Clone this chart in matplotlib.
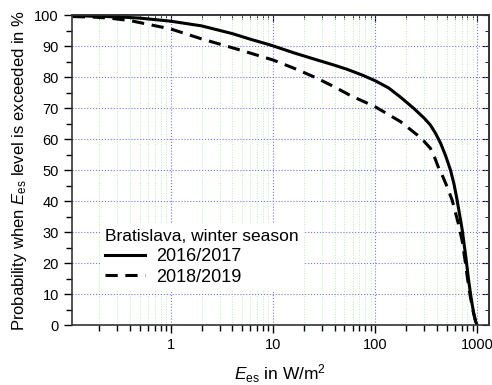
import numpy as np
import matplotlib
matplotlib.use("Agg")
import matplotlib.pyplot as plt
from matplotlib.ticker import LogLocator, MultipleLocator, NullFormatter, FixedLocator

plt.rcParams['font.family'] = ['Liberation Sans', 'DejaVu Sans']
plt.rcParams['mathtext.fontset'] = 'custom'
plt.rcParams['mathtext.rm'] = 'Liberation Sans'
plt.rcParams['mathtext.it'] = 'Liberation Sans:italic'

# 2016/2017 (solid)
x_1617 = [0.11, 0.3, 0.5, 1, 2, 4, 6, 9.5, 16, 27, 40, 53, 75, 100, 135, 177, 240, 300, 347,
          390, 437, 490, 545, 590, 633, 711, 770, 820, 870, 920, 960, 990]
p_1617 = [99.8, 99.4, 99.0, 98.0, 96.5, 94.0, 92.2, 90.3, 87.8, 85.5, 83.8, 82.5, 80.6, 78.8,
          76.5, 73.5, 69.8, 66.8, 64.5, 61.8, 58.6, 54.5, 50.0, 45.5, 40.3, 30.6, 22.0,
          14.5, 8.5, 3.8, 1.2, 0.0]
# 2018/2019 (dashed)
x_1819 = [0.11, 0.18, 0.25, 0.4, 0.6, 1, 2, 3.5, 5, 10, 17, 27, 40, 57.5, 100, 177, 258, 300,
          347, 380, 414, 460, 505, 566, 650, 711, 760, 800, 850, 900, 950, 985]
p_1819 = [99.5, 99.3, 99.0, 98.2, 97.0, 95.5, 92.3, 90.0, 88.5, 85.5, 82.5, 79.6, 76.8, 74.0,
          70.4, 65.6, 61.3, 59.3, 57.0, 54.2, 51.0, 47.8, 44.6, 40.3, 32.8, 27.0, 20.5,
          15.0, 9.5, 5.0, 1.8, 0.0]

labels = ['2016/2017', '2018/2019']

fig = plt.figure(figsize=(4.92, 3.85), dpi=100)
ax = fig.add_axes([0.1463, 0.1558, 0.8477, 0.8052])

ax.plot(x_1617, p_1617, color='black', lw=2.2, label=labels[0])
ax.plot(x_1819, p_1819, color='black', lw=2.2, ls=(0, (4, 2.5)), label=labels[1])

ax.set_xscale('log')
ax.set_xlim(0.108, 1300)
ax.set_ylim(0, 100)
ax.xaxis.set_major_locator(FixedLocator([1, 10, 100, 1000]))
ax.set_xticklabels(['1', '10', '100', '1000'])
ax.xaxis.set_minor_locator(LogLocator(base=10, subs=np.arange(2, 10)))
ax.xaxis.set_minor_formatter(NullFormatter())
ax.yaxis.set_major_locator(MultipleLocator(10))
ax.yaxis.set_minor_locator(MultipleLocator(5))

ax.grid(True, which='major', color='#7777ff', ls=':', lw=0.8)
ax.grid(True, which='minor', axis='x', color='#b8f0b8', ls=':', lw=0.7)

ax.tick_params(which='both', direction='out', labelsize=10.5, width=1)
ax.tick_params(which='major', length=6)
ax.tick_params(which='minor', length=4)

top = ax.secondary_xaxis('top')
top.xaxis.set_major_locator(FixedLocator([1, 10, 100, 1000]))
top.xaxis.set_minor_locator(LogLocator(base=10, subs=np.arange(2, 10)))
top.tick_params(which='both', direction='in', labeltop=False)
top.tick_params(which='major', length=5)
top.tick_params(which='minor', length=3)
right = ax.secondary_yaxis('right')
right.yaxis.set_major_locator(MultipleLocator(10))
right.yaxis.set_minor_locator(MultipleLocator(5))
right.tick_params(which='both', direction='in', labelright=False)
right.tick_params(which='major', length=5)
right.tick_params(which='minor', length=3)

for s in list(ax.spines.values()) + [top.spines['top'], right.spines['right']]:
    s.set_color('#333333')
    s.set_linewidth(1.2)

ax.set_xlabel(r'$\mathit{E}_{\mathrm{es}}$ in W/m$^2$', fontsize=12.5, labelpad=7)
ax.set_ylabel(r'Probability when $\mathit{E}_{\mathrm{es}}$ level is exceeded in %', fontsize=12, labelpad=4)

leg = ax.legend(title='Bratislava, winter season', loc='lower left', bbox_to_anchor=(0.067, 0.11),
                fontsize=13, title_fontsize=12.5, frameon=True, facecolor='white', edgecolor='none',
                framealpha=1, fancybox=False, handlelength=2.2, borderpad=0.3, labelspacing=0.2,
                handletextpad=0.6, alignment='left', borderaxespad=0)

fig.savefig('out.png', dpi=100)
